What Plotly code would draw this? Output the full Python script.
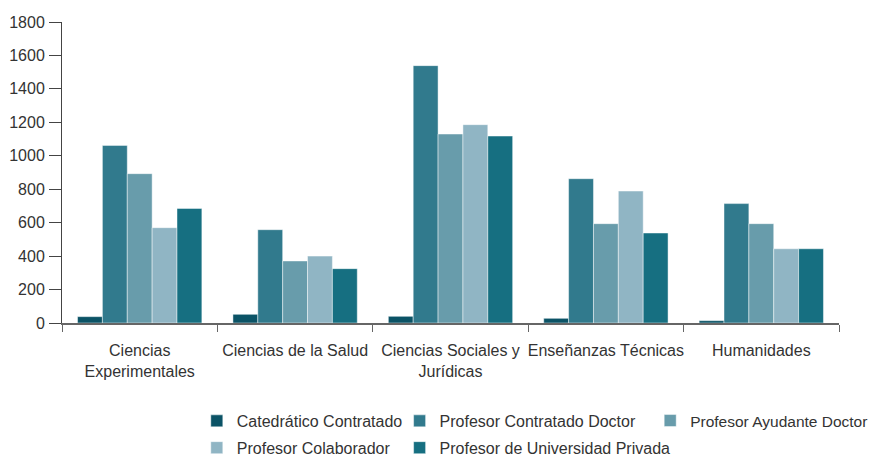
import plotly.graph_objects as go

categories = ["Ciencias<br>Experimentales", "Ciencias de la Salud", "Ciencias Sociales y<br>Jurídicas",
              "Enseñanzas Técnicas", "Humanidades"]
series_names = ["Catedrático Contratado", "Profesor Contratado Doctor", "Profesor Ayudante Doctor",
                "Profesor Colaborador", "Profesor de Universidad Privada"]
catedratico = [38, 52, 40, 28, 14]
contratado_doctor = [1062, 558, 1539, 863, 714]
ayudante_doctor = [893, 371, 1130, 594, 594]
colaborador = [570, 400, 1186, 789, 444]
univ_privada = [685, 325, 1118, 538, 444]

values = [catedratico, contratado_doctor, ayudante_doctor, colaborador, univ_privada]
colors = ["#0b5366", "#317a8d", "#689cab", "#90b5c4", "#166f81"]
legends = ["legend", "legend2", "legend3", "legend", "legend2"]

fig = go.Figure()
for name, vals, col, lg in zip(series_names, values, colors, legends):
    fig.add_trace(go.Bar(
        x=categories, y=vals, name=name, legend=lg, legendgroup=name,
        marker=dict(color=col, line=dict(color="rgba(255,255,255,0.45)", width=1)),
    ))

font = dict(family="Liberation Sans, Arial, sans-serif", size=16, color="#333333")
font3 = dict(family="Liberation Sans, Arial, sans-serif", size=15.5, color="#333333")
leg_common = dict(orientation="v", yanchor="top", y=-0.269, xanchor="left",
                  bgcolor="rgba(0,0,0,0)", tracegroupgap=3,
                  itemclick=False, itemdoubleclick=False)

# the page body adds an 8px offset, so the figure is 8px smaller and margins shifted
fig.update_layout(
    width=869, height=448,
    margin=dict(l=54, r=38, t=14, b=133, autoexpand=False),
    paper_bgcolor="white", plot_bgcolor="white",
    font=font,
    barmode="group", bargap=0.2, bargroupgap=0,
    showlegend=True,
    legend=dict(x=0.1735, font=font, **leg_common),
    legend2=dict(x=0.4345, font=font, **leg_common),
    legend3=dict(x=0.757, font=font3, **leg_common),
    xaxis=dict(showline=True, linecolor="#666666", linewidth=1.5, ticks="outside",
               tickson="boundaries", ticklen=7, tickcolor="#666666", showgrid=False,
               tickfont=font, tickangle=0, automargin=False, ticklabelstandoff=12),
    yaxis=dict(range=[0, 1800], dtick=200, showline=True, linecolor="#444444", linewidth=1,
               ticks="outside", ticklen=12, tickcolor="#444444", showgrid=False,
               zeroline=False, tickfont=font, automargin=False, ticklabelstandoff=1),
)

fig.write_html("out.html")
